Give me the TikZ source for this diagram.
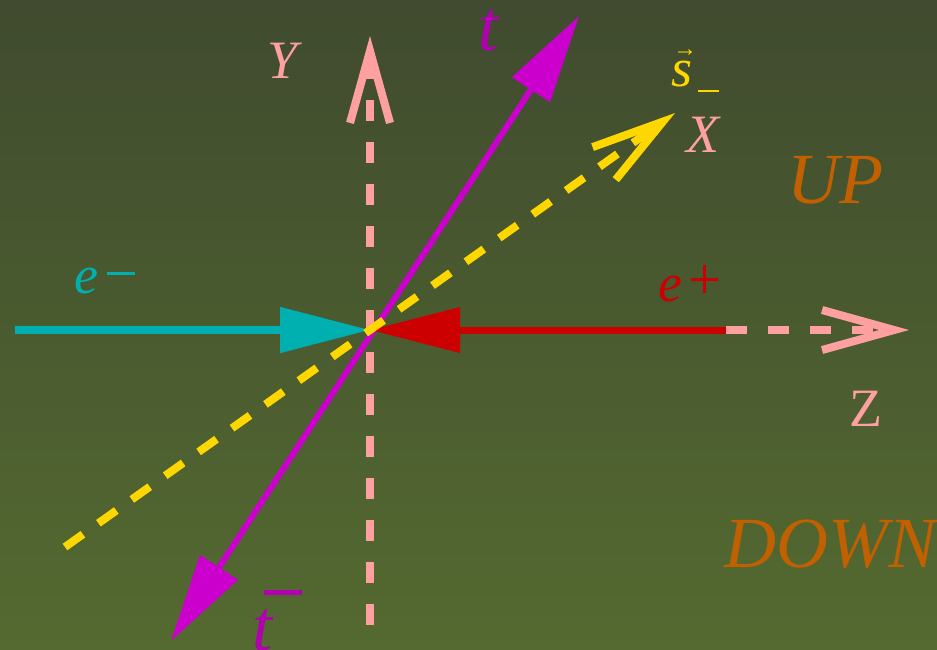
\documentclass[tikz,border=0pt]{standalone}
\usepackage{fontspec}
\setmainfont{Liberation Serif}
\usetikzlibrary{arrows.meta}

\definecolor{bgtop}{RGB}{64,75,47}
\definecolor{bgbot}{RGB}{84,106,48}
\definecolor{axpink}{RGB}{255,160,160}
\definecolor{posred}{RGB}{204,0,0}
\definecolor{elcyan}{RGB}{0,176,176}
\definecolor{topmag}{RGB}{204,0,204}
\definecolor{toplab}{RGB}{176,0,176}
\definecolor{spinyel}{RGB}{255,215,0}
\definecolor{updown}{RGB}{192,96,0}

\begin{document}
\begin{tikzpicture}[
    x=1pt, y=-1pt,
    lab/.style={inner sep=0pt, font=\fontsize{54}{60}\selectfont\itshape},
    biglab/.style={inner sep=0pt, font=\fontsize{72}{80}\selectfont\itshape, text=updown},
    axis/.style={draw=axpink, line width=8pt, dash pattern=on 21pt off 21pt},
    beam/.style={line width=8pt},
    openhead/.style={-{Straight Barb[length=72pt, width=40pt, line width=8pt]}},
    fullhead/.style={-{Triangle[length=90pt, width=44pt]}},
]

% ============ background ============
\shade[top color=bgtop, bottom color=bgbot] (0,0) rectangle (937,649);
\useasboundingbox (0,0) rectangle (937,649);
\clip (0,0) rectangle (937,649);

% ============ points ============
\coordinate (O)     at (370,330);
\coordinate (ybot)  at (370,625);
\coordinate (ytop)  at (370,36);
\coordinate (zin)   at (726,330);
\coordinate (ztip)  at (909,330);
\coordinate (ebeg)  at (15,330);
\coordinate (ttop)  at (579,16);
\coordinate (tbot)  at (171,641);
\coordinate (sbeg)  at (65,547);
\coordinate (stip)  at (675,113);

% ============ axes ============
\draw[axis, openhead] (ybot) -- (ytop);
\draw[axis, openhead] (zin) -- (ztip);

% ============ top pair ============
\draw[line width=6pt, draw=topmag, fill=topmag, {Triangle[length=88pt, width=44pt]}-{Triangle[length=88pt, width=44pt]}] (tbot) -- (ttop);

% ============ beams ============
\draw[beam, draw=elcyan, fill=elcyan, fullhead] (ebeg) -- (O);
\draw[beam, line width=7pt, draw=posred, fill=posred, fullhead] (zin) -- (O);

% ============ spin ============
\draw[line width=8pt, draw=spinyel, dash pattern=on 22pt off 19pt, openhead] (sbeg) -- (stip);

% ============ labels ============
\node[lab, text=axpink] (ylab) at (283,61) {Y};
\node[lab, text=axpink] (xlab) at (703,135) {X};
\node[lab, text=axpink, font=\fontsize{54}{60}\selectfont] (zlab) at (866,409) {Z};
\node[lab, text=toplab, font=\fontsize{72}{80}\selectfont\itshape, anchor=base west] (tlab) at (478,50) {t};
\node[lab, text=toplab, font=\fontsize{72}{80}\selectfont\itshape, anchor=base west] (tbarlab) at (252,650)
  {t\kern-8pt\raisebox{55pt}{\rule{38pt}{5pt}}};
\node[lab, text=elcyan, anchor=base west] (elab) at (74,293)
  {e\kern9pt\raisebox{18pt}{\rule{28pt}{3.5pt}}};
\node[lab, text=posred, anchor=base west] (plab) at (658,301)
  {e\kern9pt\rlap{\raisebox{20.5pt}{\rule{27pt}{3pt}}}\kern12pt\raisebox{8pt}{\rule{3pt}{28pt}}\kern12pt};
\node[lab, text=spinyel, anchor=base west] (slab) at (671,86)
  {\rlap{\kern2pt\raisebox{30pt}{\fontsize{24}{24}\selectfont\upshape →}}s\kern6pt\raisebox{-6pt}{\rule{21pt}{2.5pt}}};
\node[biglab] (uplab) at (835,180) {UP};
\node[biglab, anchor=base west] (downlab) at (724,567) {DOWN};

\end{tikzpicture}
\end{document}
